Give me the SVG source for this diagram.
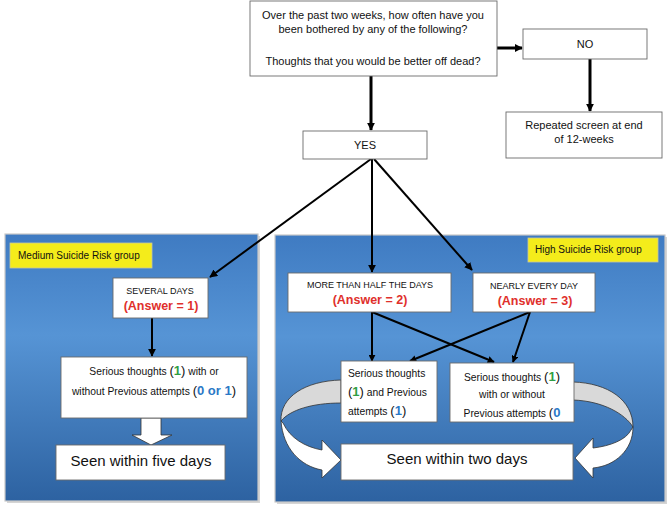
<svg xmlns="http://www.w3.org/2000/svg" width="669" height="508" viewBox="0 0 669 508">
<defs>
<linearGradient id="panelGrad" x1="0" y1="0" x2="0" y2="1">
<stop offset="0" stop-color="#3f7bc2"/>
<stop offset="0.38" stop-color="#5694d5"/>
<stop offset="1" stop-color="#2d62a1"/>
</linearGradient>
<marker id="ah" viewBox="0 0 10 10" refX="9" refY="5" markerWidth="8" markerHeight="8" markerUnits="userSpaceOnUse" orient="auto">
<path d="M0,0 L10,5 L0,10 Z" fill="#000"/>
</marker>
<marker id="ahs" viewBox="0 0 10 10" refX="9" refY="5" markerWidth="7" markerHeight="7" markerUnits="userSpaceOnUse" orient="auto">
<path d="M0,0 L10,5 L0,10 Z" fill="#000"/>
</marker>
</defs>
<style>
text{font-family:"Liberation Sans",Arial,sans-serif;fill:#111}
.box{fill:#fff;stroke:#6b6b6b;stroke-width:0.9}
.panel{fill:url(#panelGrad);stroke:#c9c9c9;stroke-width:1.2}
.shadow{fill:#b9b9b9;opacity:0.6}
.tag{fill:#f4ec1b;stroke:#c8c8a0;stroke-width:0.8}
.t11{font-size:11px}
.caps{font-size:9px}
.ans{font-size:12.5px;font-weight:bold;fill:#e0302c}
.body{font-size:10.3px}
.par{font-size:13px}
.g{fill:#2f9e44;font-weight:bold}
.b{fill:#2a78c6;font-weight:bold}
.big{font-size:15px}
.lbl{font-size:10px}
.thick{stroke:#000;stroke-width:3;fill:none}
.thin{stroke:#000;stroke-width:2;fill:none}
.rib{stroke:#333;stroke-width:0.8}
</style>

<!-- panels -->
<g id="panel-medium">
<rect class="shadow" x="7" y="236" width="253" height="267"/>
<rect class="panel" x="5" y="234" width="253" height="267"/>
<rect class="tag" x="10" y="243" width="142" height="25"/>
<text class="lbl" x="18" y="259">Medium Suicide Risk group</text>
</g>
<g id="panel-high">
<rect class="shadow" x="277" y="237" width="390" height="267"/>
<rect class="panel" x="275" y="235" width="390" height="267"/>
<rect class="tag" x="528" y="238" width="130" height="24"/>
<text class="lbl" x="535" y="253">High Suicide Risk group</text>
</g>

<!-- connectors -->
<g id="connectors">
<line class="thick" x1="497" y1="48" x2="522" y2="48" marker-end="url(#ah)"/>
<line class="thick" x1="590" y1="59" x2="590" y2="111" marker-end="url(#ah)"/>
<line class="thick" x1="371" y1="76" x2="371" y2="130" marker-end="url(#ah)"/>
<line class="thin" x1="371" y1="159" x2="210" y2="277" marker-end="url(#ah)"/>
<line class="thin" x1="372" y1="159" x2="372" y2="272" marker-end="url(#ah)"/>
<line class="thin" x1="374" y1="159" x2="472" y2="270" marker-end="url(#ah)"/>
<line class="thin" x1="152" y1="318" x2="152" y2="356" marker-end="url(#ah)"/>
<line class="thin" x1="372" y1="312" x2="372" y2="361" marker-end="url(#ahs)"/>
<line class="thin" x1="372" y1="312" x2="494" y2="362" marker-end="url(#ahs)"/>
<line class="thin" x1="530" y1="312" x2="410" y2="361" marker-end="url(#ahs)"/>
<line class="thin" x1="530" y1="312" x2="513" y2="362" marker-end="url(#ahs)"/>
<!-- block arrow medium -->
<path class="rib" d="M141,418 L161,418 L161,435 L172,435 L151,445 L132,435 L141,435 Z" fill="#fff"/>
<!-- left ribbon arrow -->
<path class="rib" fill="#d9d9d9" d="M341,380 C305,381 280,397 281,421 C290,410 312,403 341,403 Z"/>
<path class="rib" fill="#fff" d="M281,421 C283,448 300,466 322,470 L322,478 L341,460 L322,440 L322,450 C305,447 290,438 283,423 Z"/>
<!-- right ribbon arrow -->
<path class="rib" fill="#d9d9d9" d="M573,382 C608,383 633,400 633,427 C625,414 603,401 573,400 Z"/>
<path class="rib" fill="#fff" d="M633,427 C633,450 615,466 593,468 L593,478 L575,458 L593,438 L593,448 C610,446 626,440 631,430 Z"/>
</g>

<!-- nodes -->
<g id="question">
<rect class="box" x="250" y="1" width="247" height="75"/>
<text class="t11" x="373" y="19" text-anchor="middle">Over the past two weeks, how often have you</text>
<text class="t11" x="373" y="33" text-anchor="middle">been bothered by any of the following?</text>
<text class="t11" x="373" y="65" text-anchor="middle">Thoughts that you would be better off dead?</text>
</g>
<g id="no">
<rect class="box" x="523" y="29" width="124" height="30"/>
<text class="t11" x="585" y="48" text-anchor="middle">NO</text>
</g>
<g id="repeated">
<rect class="box" x="506" y="112" width="156" height="46"/>
<text class="t11" x="584" y="129" text-anchor="middle">Repeated screen at end</text>
<text class="t11" x="584" y="143" text-anchor="middle">of 12-weeks</text>
</g>
<g id="yes">
<rect class="box" x="303" y="131" width="124" height="28"/>
<text class="t11" x="365" y="149" text-anchor="middle">YES</text>
</g>
<g id="several-days">
<rect class="box" x="113" y="278" width="95" height="40"/>
<text class="caps" x="160" y="294" text-anchor="middle">SEVERAL DAYS</text>
<text class="ans" x="161" y="310" text-anchor="middle">(Answer = 1)</text>
</g>
<g id="medium-serious">
<rect class="box" x="61" y="357" width="186" height="61"/>
<text class="body" x="154" y="375" text-anchor="middle">Serious thoughts  <tspan class="par">(<tspan class="g">1</tspan>)</tspan> with or</text>
<text class="body" x="154" y="395" text-anchor="middle">without Previous attempts <tspan class="par">(<tspan class="b">0 or 1</tspan>)</tspan></text>
</g>
<g id="five-days">
<rect class="box" x="56" y="445" width="169" height="35"/>
<text class="big" x="141" y="466" text-anchor="middle">Seen within five days</text>
</g>
<g id="more-than-half">
<rect class="box" x="288" y="273" width="163" height="39"/>
<text class="caps" x="370" y="288" text-anchor="middle">MORE THAN HALF THE DAYS</text>
<text class="ans" x="370" y="304" text-anchor="middle">(Answer = 2)</text>
</g>
<g id="nearly-every-day">
<rect class="box" x="473" y="273" width="122" height="39"/>
<text class="caps" x="534" y="289" text-anchor="middle">NEARLY EVERY DAY</text>
<text class="ans" x="535" y="305" text-anchor="middle">(Answer = 3)</text>
</g>
<g id="high-serious-1">
<rect class="box" x="341" y="361" width="96" height="61"/>
<text class="body" x="348" y="377">Serious thoughts</text>
<text class="body" x="348" y="396"><tspan class="par">(<tspan class="g">1</tspan>)</tspan> and Previous</text>
<text class="body" x="348" y="415">attempts <tspan class="par">(<tspan class="b">1</tspan>)</tspan></text>
</g>
<g id="high-serious-2">
<rect class="box" x="450" y="363" width="124" height="59"/>
<text class="body" x="512" y="381" text-anchor="middle">Serious thoughts <tspan class="par">(<tspan class="g">1</tspan>)</tspan></text>
<text class="body" x="512" y="398" text-anchor="middle">with or without</text>
<text class="body" x="512" y="417" text-anchor="middle">Previous attempts <tspan class="par">(<tspan class="b">0</tspan></tspan></text>
</g>
<g id="two-days">
<rect class="box" x="341" y="444" width="232" height="36"/>
<text class="big" x="457" y="464" text-anchor="middle">Seen within two days</text>
</g>
</svg>
